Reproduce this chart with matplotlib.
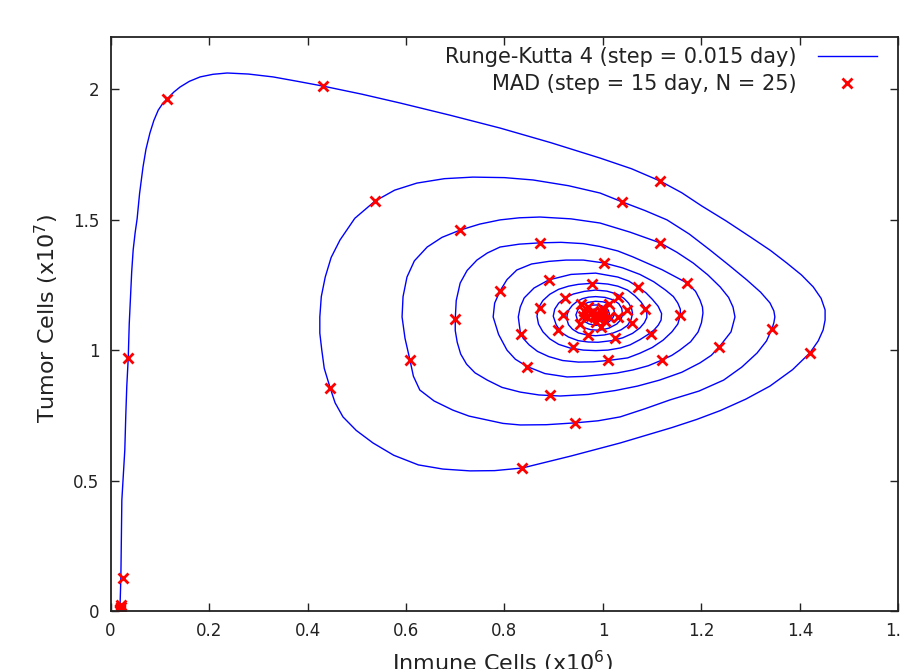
import matplotlib
matplotlib.use("Agg")
import matplotlib.pyplot as plt
from matplotlib.ticker import FuncFormatter

# Runge-Kutta 4 trajectory: (immune x1e6, tumor x1e7)
lap0 = [
    (0.019, 0.000), (0.021, 0.126), (0.022, 0.280), (0.023, 0.425),
    (0.026, 0.520), (0.029, 0.617), (0.031, 0.750), (0.033, 0.860),
    (0.036, 0.970), (0.038, 1.100), (0.041, 1.220), (0.043, 1.300),
    (0.046, 1.384), (0.050, 1.450), (0.054, 1.503), (0.059, 1.600),
    (0.066, 1.702), (0.072, 1.770), (0.080, 1.832), (0.088, 1.880),
    (0.097, 1.920), (0.106, 1.945), (0.115, 1.962), (0.128, 1.988),
    (0.141, 2.008), (0.160, 2.030), (0.182, 2.047), (0.208, 2.057),
    (0.237, 2.062), (0.280, 2.058), (0.330, 2.047), (0.380, 2.030),
    (0.431, 2.012), (0.510, 1.981), (0.588, 1.947), (0.690, 1.900),
    (0.791, 1.851), (0.894, 1.795), (0.994, 1.736), (1.058, 1.695),
    (1.116, 1.648), (1.160, 1.603), (1.200, 1.553), (1.250, 1.495),
    (1.299, 1.434), (1.340, 1.382), (1.373, 1.334), (1.403, 1.288),
    (1.427, 1.242), (1.443, 1.198), (1.451, 1.154), (1.451, 1.115),
    (1.447, 1.077), (1.437, 1.035), (1.420, 0.989), (1.385, 0.925),
    (1.339, 0.862), (1.290, 0.812), (1.238, 0.768), (1.190, 0.734),
    (1.140, 0.703), (1.035, 0.644), (0.935, 0.594), (0.836, 0.548),
    (0.780, 0.538), (0.730, 0.537), (0.675, 0.544), (0.625, 0.560),
    (0.575, 0.597), (0.533, 0.644), (0.499, 0.692), (0.472, 0.744),
    (0.456, 0.798), (0.446, 0.855), (0.434, 0.930), (0.429, 1.000),
    (0.425, 1.065), (0.425, 1.127), (0.428, 1.205), (0.436, 1.280),
    (0.448, 1.355), (0.466, 1.422), (0.496, 1.505), (0.537, 1.571),
    (0.577, 1.613), (0.622, 1.640), (0.678, 1.657), (0.736, 1.663),
    (0.800, 1.661), (0.858, 1.652), (0.930, 1.630), (0.994, 1.602),
]
lap1 = [
    (1.039, 1.568), (1.085, 1.535), (1.130, 1.499), (1.175, 1.445),
    (1.217, 1.384), (1.256, 1.325), (1.292, 1.269), (1.320, 1.222),
    (1.339, 1.181), (1.347, 1.150), (1.349, 1.127), (1.347, 1.105),
    (1.343, 1.081), (1.332, 1.035), (1.313, 0.989), (1.282, 0.935),
    (1.245, 0.885), (1.195, 0.843), (1.136, 0.809), (1.085, 0.775),
    (1.035, 0.744), (0.990, 0.729), (0.943, 0.721), (0.885, 0.714),
    (0.832, 0.713), (0.797, 0.719), (0.765, 0.732), (0.728, 0.747),
    (0.695, 0.770), (0.657, 0.805), (0.628, 0.847), (0.615, 0.900),
    (0.608, 0.962), (0.598, 1.045), (0.592, 1.127), (0.594, 1.205),
    (0.602, 1.280), (0.617, 1.342), (0.643, 1.395), (0.673, 1.432),
    (0.710, 1.460), (0.750, 1.483), (0.791, 1.499), (0.830, 1.507),
    (0.872, 1.510), (0.935, 1.503), (0.994, 1.487),
]
lap2 = [
    (1.055, 1.452), (1.116, 1.411), (1.150, 1.375), (1.183, 1.334),
    (1.213, 1.288), (1.238, 1.242), (1.255, 1.202), (1.264, 1.165),
    (1.268, 1.127), (1.260, 1.070), (1.236, 1.012), (1.220, 0.980),
    (1.197, 0.951), (1.160, 0.915), (1.115, 0.885), (1.070, 0.862),
    (1.025, 0.845), (0.970, 0.830), (0.913, 0.824), (0.870, 0.828),
    (0.832, 0.839), (0.795, 0.857), (0.765, 0.885), (0.740, 0.913),
    (0.723, 0.946), (0.711, 0.985), (0.704, 1.030), (0.700, 1.075),
    (0.700, 1.119), (0.702, 1.190), (0.710, 1.257), (0.724, 1.305),
    (0.744, 1.345), (0.765, 1.372), (0.791, 1.395), (0.830, 1.406),
    (0.872, 1.411), (0.915, 1.413), (0.960, 1.408), (0.994, 1.397),
]
lap3 = [
    (1.030, 1.380), (1.061, 1.357), (1.120, 1.308), (1.171, 1.257),
    (1.188, 1.225), (1.197, 1.192), (1.202, 1.165), (1.203, 1.142),
    (1.200, 1.105), (1.193, 1.069), (1.178, 1.032), (1.156, 1.000),
    (1.140, 0.980), (1.120, 0.962), (1.092, 0.940), (1.061, 0.924),
    (1.028, 0.912), (0.994, 0.905), (0.960, 0.899), (0.927, 0.897),
    (0.882, 0.910), (0.846, 0.937), (0.822, 0.965), (0.805, 1.000),
    (0.788, 1.060), (0.777, 1.127), (0.780, 1.180), (0.791, 1.227),
    (0.805, 1.270), (0.825, 1.307), (0.855, 1.330), (0.890, 1.340),
    (0.925, 1.345), (0.960, 1.345), (1.002, 1.334),
]
lap4 = [
    (1.040, 1.315), (1.075, 1.290), (1.103, 1.262), (1.127, 1.230),
    (1.143, 1.205), (1.152, 1.180), (1.157, 1.157), (1.157, 1.135),
    (1.152, 1.100), (1.140, 1.070), (1.122, 1.038), (1.100, 1.010),
    (1.075, 0.988), (1.050, 0.970), (1.010, 0.960), (0.980, 0.955),
    (0.950, 0.954), (0.918, 0.960), (0.890, 0.975), (0.867, 0.995),
    (0.850, 1.020), (0.838, 1.045), (0.832, 1.070), (0.828, 1.127),
    (0.832, 1.165), (0.840, 1.200), (0.860, 1.238), (0.890, 1.269),
    (0.935, 1.290), (0.985, 1.295),
]
lap5 = [
    (1.030, 1.280), (1.052, 1.265), (1.071, 1.242), (1.087, 1.220),
    (1.100, 1.195), (1.112, 1.168), (1.119, 1.140), (1.118, 1.115),
    (1.112, 1.095), (1.103, 1.076), (1.090, 1.058), (1.075, 1.040),
    (1.055, 1.020), (1.035, 1.008), (1.010, 1.000), (0.985, 0.998),
    (0.960, 1.000), (0.933, 1.008), (0.910, 1.022), (0.892, 1.043),
    (0.878, 1.070), (0.869, 1.100), (0.866, 1.130), (0.869, 1.162),
    (0.878, 1.190), (0.892, 1.214), (0.910, 1.233), (0.930, 1.245),
    (0.950, 1.252), (0.985, 1.257),
]
lap6 = [
    (1.010, 1.253), (1.030, 1.245), (1.050, 1.230), (1.065, 1.208),
    (1.077, 1.185), (1.086, 1.160), (1.089, 1.140), (1.089, 1.125),
    (1.084, 1.105), (1.075, 1.085), (1.060, 1.064), (1.040, 1.047),
    (1.017, 1.036), (0.990, 1.030), (0.970, 1.031), (0.950, 1.036),
    (0.930, 1.050), (0.915, 1.068), (0.905, 1.097), (0.899, 1.130),
    (0.902, 1.157), (0.910, 1.180), (0.923, 1.200), (0.940, 1.215),
    (0.962, 1.225), (0.985, 1.230),
]
lap7 = [
    (1.008, 1.226), (1.028, 1.215), (1.042, 1.199), (1.052, 1.180),
    (1.058, 1.160), (1.060, 1.140), (1.057, 1.117), (1.050, 1.095),
    (1.037, 1.078), (1.020, 1.065), (1.003, 1.058), (0.985, 1.055),
    (0.967, 1.058), (0.950, 1.066), (0.938, 1.080), (0.930, 1.097),
    (0.927, 1.116), (0.927, 1.135), (0.931, 1.155), (0.938, 1.172),
    (0.947, 1.186), (0.958, 1.197), (0.971, 1.203), (0.985, 1.205),
]
lap8 = [
    (1.004, 1.202), (1.020, 1.193), (1.032, 1.178), (1.038, 1.160),
    (1.040, 1.135), (1.036, 1.116), (1.028, 1.100), (1.012, 1.084),
    (0.993, 1.076), (0.975, 1.078), (0.958, 1.088), (0.949, 1.110),
    (0.945, 1.135), (0.949, 1.155), (0.958, 1.172), (0.970, 1.183),
    (0.985, 1.187),
]
lap9 = [
    (1.000, 1.185), (1.012, 1.178), (1.021, 1.162), (1.024, 1.140),
    (1.019, 1.120), (1.010, 1.105), (0.998, 1.097), (0.985, 1.095),
    (0.972, 1.100), (0.962, 1.110), (0.958, 1.125), (0.957, 1.140),
    (0.962, 1.156), (0.970, 1.167), (0.978, 1.172), (0.987, 1.173),
]
lap_end = [
    (0.997, 1.170), (1.005, 1.163), (1.011, 1.152), (1.013, 1.138),
    (1.008, 1.124), (1.000, 1.115), (0.992, 1.111), (0.984, 1.110),
    (0.976, 1.114), (0.970, 1.122), (0.967, 1.131), (0.968, 1.140),
    (0.972, 1.149), (0.978, 1.155), (0.985, 1.158), (0.992, 1.158),
    (0.999, 1.153), (1.003, 1.145), (1.002, 1.133), (0.998, 1.125),
    (0.991, 1.121), (0.984, 1.122), (0.978, 1.127), (0.976, 1.134),
    (0.979, 1.141), (0.985, 1.146), (0.991, 1.144), (0.993, 1.138),
    (0.990, 1.132), (0.985, 1.134),
]

# MAD points (step = 15 day)
mad_outer = [
    (0.019, 0.000), (0.020, 0.004), (0.020, 0.008), (0.021, 0.014),
    (0.022, 0.024), (0.025, 0.126), (0.036, 0.970), (0.115, 1.962),
    (0.431, 2.012), (1.116, 1.648), (1.420, 0.989), (0.836, 0.548),
    (0.446, 0.855), (0.537, 1.571), (1.039, 1.568), (1.343, 1.081),
    (0.943, 0.721), (0.608, 0.962), (0.710, 1.460), (1.116, 1.411),
    (1.236, 1.012), (0.892, 0.828), (0.700, 1.119), (0.872, 1.411),
    (1.171, 1.257), (1.120, 0.962), (0.846, 0.937), (0.791, 1.227),
    (1.002, 1.334), (1.157, 1.135), (1.010, 0.962), (0.834, 1.062),
    (0.890, 1.269), (1.071, 1.242), (1.098, 1.062),
]
mad_inner = [
    (0.978, 1.253), (0.923, 1.200), (1.030, 1.204), (0.872, 1.161),
    (1.086, 1.158), (0.919, 1.135), (1.049, 1.154), (1.059, 1.104),
    (0.909, 1.077), (0.970, 1.058), (1.024, 1.046), (0.939, 1.012),
    (0.955, 1.175), (1.012, 1.178), (1.030, 1.125), (0.995, 1.090),
    (0.953, 1.100), (0.962, 1.150), (0.998, 1.163), (1.012, 1.128),
    (0.985, 1.108), (0.968, 1.125), (0.980, 1.148), (0.997, 1.142),
    (0.990, 1.124), (0.982, 1.131), (0.988, 1.137), (0.985, 1.134),
    (0.975, 1.140), (1.000, 1.132), (0.960, 1.130), (1.005, 1.110),
    (0.970, 1.165),
]

x_ticks = [0, 0.2, 0.4, 0.6, 0.8, 1.0, 1.2, 1.4, 1.6]
y_ticks = [0, 0.5, 1.0, 1.5, 2.0]

rk4 = lap0 + lap1 + lap2 + lap3 + lap4 + lap5 + lap6 + lap7 + lap8 + lap9 + lap_end
rk4_x = [p[0] for p in rk4]
rk4_y = [p[1] for p in rk4]
mad = mad_outer + mad_inner
mad_x = [p[0] for p in mad]
mad_y = [p[1] for p in mad]


def fmt(v, _pos):
    return f"{v:g}"


fig = plt.figure(figsize=(9, 6.69), dpi=100)
ax = fig.add_axes([0.1228, 0.0867, 0.8755, 0.858])

ax.plot(rk4_x, rk4_y, color="#0000ff", lw=1.0,
        label="Runge-Kutta 4 (step = 0.015 day)")
ax.plot(mad_x, mad_y, ls="none", marker="x", color="#ff0000", ms=7, mew=2,
        label="MAD (step = 15 day, N = 25)")

ax.set_xlim(0, 1.6)
ax.set_ylim(0, 2.2)
ax.set_xticks(x_ticks)
ax.set_yticks(y_ticks)
ax.xaxis.set_major_formatter(FuncFormatter(fmt))
ax.yaxis.set_major_formatter(FuncFormatter(fmt))
ax.tick_params(direction="in", top=True, right=True, length=6, width=1,
               labelsize=12, colors="#222222", pad=8)
for s in ax.spines.values():
    s.set_linewidth(1.3)
    s.set_color("#222222")

ax.set_xlabel("Inmune Cells (x10$^6$)", fontsize=16, color="#222222")
ax.set_ylabel("Tumor Cells (x10$^7$)", fontsize=16, color="#222222")
ax.xaxis.set_label_coords(0.498, -0.065)
ax.yaxis.set_label_coords(-0.063, 0.51)

ax.legend(loc="upper right", bbox_to_anchor=(0.9727, 0.982), frameon=False,
          markerfirst=False, fontsize=15, handlelength=2.85,
          handletextpad=1.0, labelspacing=0.32, borderpad=0, borderaxespad=0,
          labelcolor="#222222")

fig.savefig("out.png", dpi=100)
